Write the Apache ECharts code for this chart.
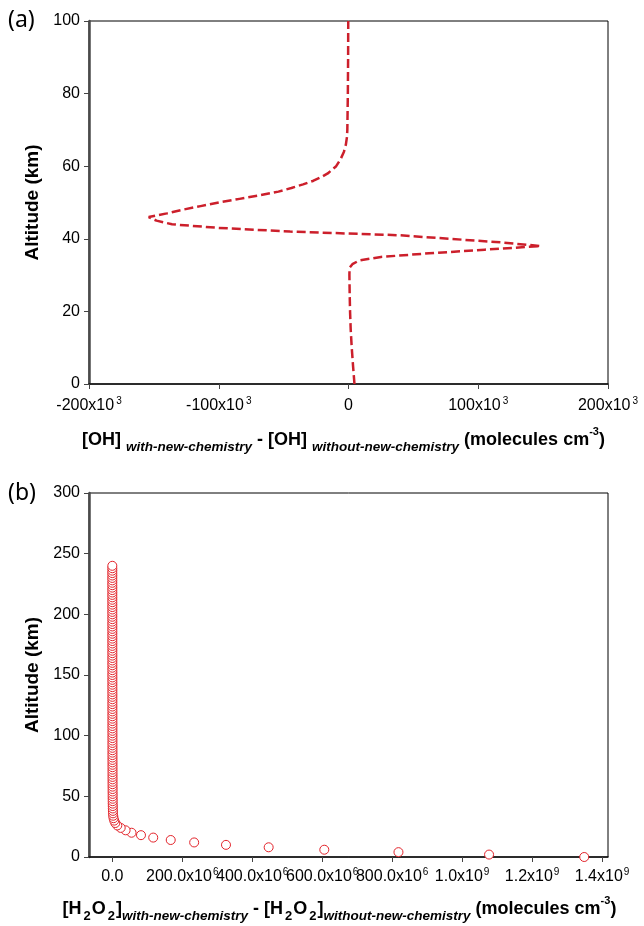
<!DOCTYPE html>
<html><head><meta charset="utf-8">
<script src="https://cdn.jsdelivr.net/npm/echarts@6/dist/echarts.min.js"></script>
<style>html,body{margin:0;padding:0;background:#fff}#c{width:644px;height:926px}</style>
</head><body><div id="c"></div>
<script>
// ---- Panel (a): OH difference vs altitude ----
const ohAltitude = [0,5,10,15,20,25,30,32,33,34,35,36,37,38,39,40,41,42,43,44,45,46,47,48,49,50,51,52,53,54,55,56,57,58,60,62,64,66,68,70,80,90,100];
const ohDifference = [4.6e3,3.5e3,2.5e3,1.7e3,1.2e3,0.9e3,0.7e3,0.8e3,3e3,8e3,25e3,62e3,105e3,148e3,118e3,78e3,38e3,-45e3,-100e3,-136e3,-148e3,-154e3,-140e3,-128e3,-114e3,-100e3,-84e3,-68e3,-54e3,-44e3,-35e3,-27e3,-21e3,-16e3,-9.5e3,-6e3,-3.5e3,-2e3,-1.2e3,-0.9e3,-0.5e3,-0.3e3,-0.2e3];
const ohTickValues = [-200e3,-100e3,0,100e3,200e3];
const ohTickMantissa = ['-200x10','-100x10','0','100x10','200x10'];
const ohTickExponent = ['3','3','','3','3'];

// ---- Panel (b): H2O2 difference vs altitude ----
const h2o2Altitude = [0,2,4,6,8,10,12,14,16,18,20,22,24,26,28,30,32,34,36,38,40,
42,44,46,48,50,52,54,56,58,60,62,64,66,68,70,72,74,76,78,80,
82,84,86,88,90,92,94,96,98,100,102,104,106,108,110,112,114,116,118,120,
122,124,126,128,130,132,134,136,138,140,142,144,146,148,150,152,154,156,158,160,
162,164,166,168,170,172,174,176,178,180,182,184,186,188,190,192,194,196,198,200,
202,204,206,208,210,212,214,216,218,220,222,224,226,228,230,232,234,236,238,240];
const h2o2Difference = [1349e6,1077e6,818e6,606e6,447e6,325e6,234e6,167e6,117e6,82e6,55e6,38e6,24e6,14.3e6,8.6e6,5.5e6,3.6e6,2.6e6,2.0e6,1.7e6,1.5e6,
1.3e6,1.2e6,1.1e6,1.0e6,0.95e6,0.9e6,0.85e6,0.8e6,0.76e6,0.72e6,
0.70e6,0.68e6,0.66e6,0.64e6,0.62e6,0.60e6,0.58e6,0.56e6,0.54e6,0.52e6,
0.50e6,0.49e6,0.48e6,0.47e6,0.46e6,0.45e6,0.44e6,0.43e6,0.42e6,0.41e6,
0.40e6,0.39e6,0.38e6,0.37e6,0.36e6,0.35e6,0.34e6,0.33e6,0.32e6,0.31e6,
0.30e6,0.30e6,0.29e6,0.29e6,0.28e6,0.28e6,0.27e6,0.27e6,0.26e6,0.26e6,
0.25e6,0.25e6,0.24e6,0.24e6,0.23e6,0.23e6,0.22e6,0.22e6,0.21e6,0.21e6,
0.20e6,0.20e6,0.19e6,0.19e6,0.18e6,0.18e6,0.17e6,0.17e6,0.16e6,0.16e6,
0.15e6,0.15e6,0.15e6,0.14e6,0.14e6,0.14e6,0.13e6,0.13e6,0.13e6,0.12e6,
0.12e6,0.12e6,0.11e6,0.11e6,0.11e6,0.10e6,0.10e6,0.10e6,0.09e6,0.09e6,
0.09e6,0.08e6,0.08e6,0.08e6,0.07e6,0.07e6,0.07e6,0.06e6,0.06e6,0.06e6];
const h2o2TickValues = [0,200e6,400e6,600e6,800e6,1000e6,1200e6,1400e6];
const h2o2TickMantissa = ['0.0','200.0x10','400.0x10','600.0x10','800.0x10','1.0x10','1.2x10','1.4x10'];
const h2o2TickExponent = ['','6','6','6','6','9','9','9'];

const F = 'Liberation Sans, Arial, Helvetica, sans-serif';
const LINE_RED = '#cc1f2b';
const MARK_RED = '#e3242b';

function tickFmt(values, mant, expo) {
  return function (v) {
    let idx = -1;
    for (let i = 0; i < values.length; i++) {
      if (Math.abs(values[i] - v) < 1e-6 * Math.max(1, Math.abs(values[i]))) { idx = i; break; }
    }
    if (idx < 0) return '';
    return expo[idx] ? '{n|' + mant[idx] + '}{s|' + expo[idx] + '}' : '{n|' + mant[idx] + '}';
  };
}
const tickRich = {
  n: {fontSize: 16, fontFamily: F, color: '#000', lineHeight: 20},
  s: {fontSize: 10, fontFamily: F, color: '#000', lineHeight: 15, verticalAlign: 'top', padding: [0, 0, 0, 2]}
};
const tickRichB = {
  n: {fontSize: 16, fontFamily: F, color: '#000', lineHeight: 20},
  s: {fontSize: 10, fontFamily: F, color: '#000', lineHeight: 15, verticalAlign: 'top', padding: [0, 0, 0, 1]}
};
const nameRich = {
  b: {fontSize: 18, fontFamily: F, fontWeight: 'bold', color: '#000', lineHeight: 28},
  i: {fontSize: 13.5, fontFamily: F, fontWeight: 'bold', fontStyle: 'italic', color: '#000', lineHeight: 13, verticalAlign: 'bottom'},
  d: {fontSize: 13, fontFamily: F, fontWeight: 'bold', color: '#000', lineHeight: 12, verticalAlign: 'bottom', padding: [0, 1, 0, 2]},
  p: {fontSize: 11, fontFamily: F, fontWeight: 'bold', color: '#000', lineHeight: 16, verticalAlign: 'top'}
};

const yNameStyle = {fontSize: 19, fontFamily: F, fontWeight: 'bold', color: '#000'};
const leftLine = {show: true, onZero: false, lineStyle: {color: '#4a4a4a', width: 2.5}};
const bottomLine = {show: true, onZero: false, lineStyle: {color: '#111', width: 1.5}};
const tickStyle = {show: true, inside: false, length: 5, lineStyle: {color: '#444', width: 1}};

const option = {
  animation: false,
  backgroundColor: '#fff',
  graphic: [
    {type: 'text', left: 8, top: 9, style: {text: '(a)', fontSize: 23, fontFamily: 'Noto Sans, sans-serif', fill: '#000'}},
    {type: 'text', left: 8, top: 482, style: {text: '(b)', fontSize: 23, fontFamily: 'Noto Sans, sans-serif', fill: '#000'}}
  ],
  grid: [
    {left: 89, right: 36, top: 21, height: 363, show: true, borderColor: '#000', borderWidth: 1, backgroundColor: 'transparent', outerBoundsMode: 'none', containLabel: false},
    {left: 89, right: 36, top: 493, height: 364, show: true, borderColor: '#000', borderWidth: 1, backgroundColor: 'transparent', outerBoundsMode: 'none', containLabel: false}
  ],
  xAxis: [
    {
      gridIndex: 0, type: 'value', min: -200e3, max: 200e3, interval: 100e3,
      splitLine: {show: false}, axisLine: bottomLine, axisTick: tickStyle,
      axisLabel: {margin: 12, formatter: tickFmt(ohTickValues, ohTickMantissa, ohTickExponent), rich: tickRich},
      name: '{b|[OH] }{i|with-new-chemistry}{b| - [OH] }{i|without-new-chemistry}{b| (molecules cm}{p|-3}{b|)}',
      nameLocation: 'middle', nameGap: 42, nameTextStyle: {rich: nameRich, padding: [0, 10, 0, 0]}
    },
    {
      gridIndex: 1, type: 'value', min: -66.6e6, max: 1417e6,
      splitLine: {show: false}, axisLine: bottomLine,
      axisTick: Object.assign({}, tickStyle, {customValues: h2o2TickValues}),
      axisLabel: {margin: 10, customValues: h2o2TickValues, formatter: tickFmt(h2o2TickValues, h2o2TickMantissa, h2o2TickExponent), rich: tickRichB},
      name: '{b|[H}{d|2}{b|O}{d|2}{b|]}{i|with-new-chemistry}{b| - [H}{d|2}{b|O}{d|2}{b|]}{i|without-new-chemistry}{b| (molecules cm}{p|-3}{b|)}',
      nameLocation: 'middle', nameGap: 38, nameTextStyle: {rich: nameRich, padding: [0, 18, 0, 0]}
    }
  ],
  yAxis: [
    {
      gridIndex: 0, type: 'value', min: 0, max: 100, interval: 20,
      splitLine: {show: false}, axisLine: leftLine, axisTick: tickStyle,
      axisLabel: {margin: 9, fontSize: 16, fontFamily: F, color: '#000'},
      name: 'Altitude (km)', nameLocation: 'middle', nameGap: 47, nameTextStyle: yNameStyle
    },
    {
      gridIndex: 1, type: 'value', min: 0, max: 300, interval: 50,
      splitLine: {show: false}, axisLine: leftLine, axisTick: tickStyle,
      axisLabel: {margin: 9, fontSize: 16, fontFamily: F, color: '#000'},
      name: 'Altitude (km)', nameLocation: 'middle', nameGap: 47, nameTextStyle: yNameStyle
    }
  ],
  series: [
    {
      type: 'line', xAxisIndex: 0, yAxisIndex: 0, showSymbol: false, symbol: 'none', smooth: false,
      lineStyle: {color: LINE_RED, width: 2.5, type: [9, 4]},
      data: ohAltitude.map((a, i) => [ohDifference[i], a])
    },
    {
      type: 'scatter', xAxisIndex: 1, yAxisIndex: 1, symbol: 'circle', symbolSize: 9,
      itemStyle: {color: '#fff', borderColor: MARK_RED, borderWidth: 1, opacity: 1},
      data: h2o2Altitude.map((a, i) => [h2o2Difference[i], a])
    }
  ]
};
const chart = echarts.init(document.getElementById('c'), null, {renderer: 'canvas'});
chart.setOption(option);
</script>
</body></html>
